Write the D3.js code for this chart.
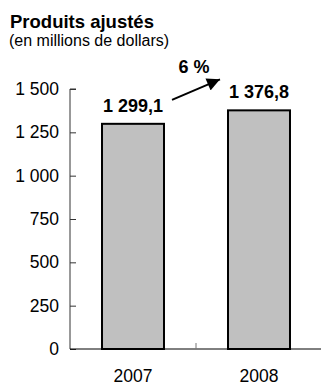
<!DOCTYPE html>
<html>
<head>
<meta charset="utf-8">
<script src="https://cdn.jsdelivr.net/npm/d3@7/dist/d3.min.js"></script>
<style>
  html, body { margin: 0; padding: 0; background: #fff; }
  svg { display: block; font-family: "Liberation Sans", Arial, sans-serif; }
</style>
</head>
<body>
<svg id="chart" width="321" height="385"></svg>
<script>
// Adjusted revenue, millions of dollars
const years = ["2007", "2008"];
const revenue = [1299.1, 1376.8];
const yTicks = [0, 250, 500, 750, 1000, 1250, 1500];
const growthLabel = "6 %";

const svg = d3.select("#chart");
const plotLeft = 70, plotRight = 322, plotTop = 89, plotBottom = 349;

// French-style numbers: space for thousands, comma for decimals
const fr = d3.formatLocale({ decimal: ",", thousands: "\u00a0", grouping: [3], currency: ["", " $"] });
const fmtTick = fr.format(",d");
const fmtVal = fr.format(",.1f");

const x = d3.scaleBand().domain(years).range([plotLeft, plotRight])
  .paddingInner(0.508).paddingOuter(0.254);
const y = d3.scaleLinear().domain([0, 1500]).range([plotBottom, plotTop]);

// Title
svg.append("text").attr("x", 10).attr("y", 28)
  .attr("font-size", 18.5).attr("font-weight", "bold").attr("fill", "#000")
  .text("Produits ajustés");
svg.append("text").attr("x", 9).attr("y", 46)
  .attr("font-size", 16).attr("fill", "#000")
  .text("(en millions de dollars)");

// Y axis (ticks point inward)
const yAxis = d3.axisRight(y).tickValues(yTicks).tickSize(6).tickFormat(fmtTick);
const gy = svg.append("g").attr("transform", `translate(${plotLeft},0)`).call(yAxis);
gy.select(".domain").attr("stroke", "#333").attr("d", `M6,${plotTop}H0V${plotBottom}`);
gy.selectAll(".tick line").attr("stroke", "#333");
gy.selectAll(".tick text")
  .attr("x", -11).attr("text-anchor", "end")
  .attr("font-size", 17.5).attr("font-family", "'Liberation Sans', Arial, sans-serif")
  .attr("fill", "#000");

// Bars
svg.append("g").selectAll("rect").data(years).join("rect")
  .attr("x", d => x(d))
  .attr("y", (d, i) => y(revenue[i]))
  .attr("width", x.bandwidth())
  .attr("height", (d, i) => y(0) - y(revenue[i]))
  .attr("fill", "#c0c0c0")
  .attr("stroke", "#000")
  .attr("stroke-width", 2);

// X axis
const gx = svg.append("g").attr("transform", `translate(0,${plotBottom})`);
gx.append("line").attr("x1", plotLeft).attr("x2", 321).attr("y1", 0).attr("y2", 0)
  .attr("stroke", "#000").attr("stroke-width", 1);
const midX = x(years[0]) + x.bandwidth() + (x.step() - x.bandwidth()) / 2;
gx.append("line").attr("x1", midX).attr("x2", midX).attr("y1", 0).attr("y2", -6)
  .attr("stroke", "#777");
gx.selectAll("text").data(years).join("text")
  .attr("x", d => x(d) + x.bandwidth() / 2)
  .attr("y", 32.5)
  .attr("text-anchor", "middle")
  .attr("font-size", 17.5).attr("fill", "#000")
  .text(d => d);

// Value labels
svg.append("g").selectAll("text").data(years).join("text")
  .attr("x", d => x(d) + x.bandwidth() / 2)
  .attr("y", (d, i) => y(revenue[i]) - 12)
  .attr("text-anchor", "middle")
  .attr("font-size", 18).attr("font-weight", "bold").attr("fill", "#000")
  .text((d, i) => fmtVal(revenue[i]));

// Growth arrow
svg.append("defs").append("marker")
  .attr("id", "arrowhead").attr("viewBox", "0 0 10 10")
  .attr("refX", 10).attr("refY", 5)
  .attr("markerWidth", 7).attr("markerHeight", 6.5)
  .attr("markerUnits", "strokeWidth")
  .attr("orient", "auto")
  .append("path").attr("d", "M0,0L10,5L0,10Z").attr("fill", "#000");

const x0 = x(years[0]) + x.bandwidth() + 8;
const x1 = x(years[1]) - 8;
svg.append("line")
  .attr("x1", x0).attr("y1", y(revenue[0]) - 24)
  .attr("x2", x1).attr("y2", y(revenue[1]) - 31)
  .attr("stroke", "#000").attr("stroke-width", 2)
  .attr("marker-end", "url(#arrowhead)");

svg.append("text")
  .attr("x", (x0 + x1) / 2 - 2).attr("y", 73)
  .attr("text-anchor", "middle")
  .attr("font-size", 18).attr("font-weight", "bold").attr("fill", "#000")
  .text(growthLabel);
</script>
</body>
</html>
